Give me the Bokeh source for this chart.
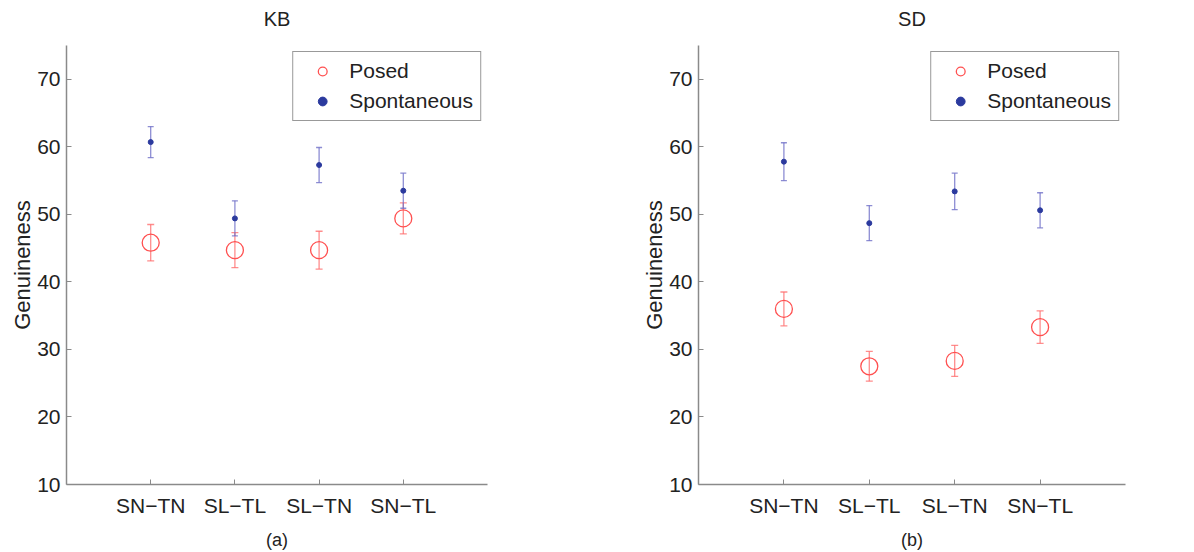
from bokeh.plotting import figure
from bokeh.models import Whisker, TeeHead, ColumnDataSource, FixedTicker, Title
from bokeh.layouts import row
from bokeh.embed import file_html
from bokeh.resources import INLINE

categories = ["SN\u2212TN", "SL\u2212TL", "SL\u2212TN", "SN\u2212TL"]
y_ticks = [10, 20, 30, 40, 50, 60, 70]

kb_posed = [45.8, 44.7, 44.7, 49.4]
kb_posed_err = [2.7, 2.6, 2.8, 2.3]
kb_spont = [60.7, 49.4, 57.3, 53.5]
kb_spont_err = [2.3, 2.6, 2.6, 2.6]

sd_posed = [36.0, 27.5, 28.3, 33.3]
sd_posed_err = [2.5, 2.2, 2.3, 2.4]
sd_spont = [57.8, 48.7, 53.4, 50.6]
sd_spont_err = [2.8, 2.6, 2.7, 2.6]

FONT = "Liberation Sans"
TEXT = "#222222"
AXIS = "#8a8a8a"
RED = "#ff5050"
RED_ERR = "#ff7070"
BLUE = "#2b3a9e"
BLUE_ERR = "#7070c8"


def make_panel(title, caption, posed, posed_err, spont, spont_err, fw, bl, br):
    p = figure(frame_width=fw, frame_height=439, x_range=(0, 5), y_range=(10, 75),
               output_backend="svg", toolbar_location=None, title=title,
               min_border_left=bl, min_border_right=br,
               min_border_top=45, min_border_bottom=66)
    p.outline_line_color = None
    p.xgrid.visible = False
    p.ygrid.visible = False
    p.background_fill_color = "white"
    p.border_fill_color = "white"

    # small spacer between the frame and the title
    p.add_layout(Title(text=" ", text_font_size="8px", standoff=0), "above")

    p.title.align = "center"
    p.title.text_font = FONT
    p.title.text_font_size = "20px"
    p.title.text_font_style = "normal"
    p.title.text_color = TEXT

    x = list(range(1, len(categories) + 1))
    p.xaxis.ticker = FixedTicker(ticks=x)
    p.xaxis.major_label_overrides = {xi: c for xi, c in zip(x, categories)}
    p.yaxis.ticker = FixedTicker(ticks=y_ticks)
    p.yaxis.axis_label = "Genuineness"
    p.xaxis.axis_label = caption

    for ax in (p.xaxis[0], p.yaxis[0]):
        ax.axis_line_color = AXIS
        ax.axis_line_width = 1.5
        ax.major_tick_line_color = AXIS
        ax.major_tick_in = 5
        ax.major_tick_out = 0
        ax.minor_tick_line_color = None
        ax.major_label_text_font = FONT
        ax.major_label_text_font_size = "21px"
        ax.major_label_text_color = TEXT
        ax.axis_label_text_font = FONT
        ax.axis_label_text_font_style = "normal"
        ax.axis_label_text_color = TEXT
    p.yaxis.major_label_standoff = 6
    p.yaxis.axis_label_text_font_size = "22px"
    p.yaxis.axis_label_standoff = -1
    p.xaxis.major_label_standoff = 9
    p.xaxis.axis_label_text_font_size = "18px"
    p.xaxis.axis_label_standoff = 10

    ps = ColumnDataSource(dict(x=x, y=posed,
                               lo=[v - e for v, e in zip(posed, posed_err)],
                               hi=[v + e for v, e in zip(posed, posed_err)]))
    ss = ColumnDataSource(dict(x=x, y=spont,
                               lo=[v - e for v, e in zip(spont, spont_err)],
                               hi=[v + e for v, e in zip(spont, spont_err)]))

    p.add_layout(Whisker(base="x", lower="lo", upper="hi", source=ps,
                         line_color=RED_ERR, line_width=1.3, line_alpha=0.8,
                         upper_head=TeeHead(size=7, line_color=RED_ERR, line_width=1.3, line_alpha=0.8),
                         lower_head=TeeHead(size=7, line_color=RED_ERR, line_width=1.3, line_alpha=0.8)))
    p.add_layout(Whisker(base="x", lower="lo", upper="hi", source=ss,
                         line_color=BLUE_ERR, line_width=1.3, line_alpha=0.8,
                         upper_head=TeeHead(size=6, line_color=BLUE_ERR, line_width=1.3, line_alpha=0.8),
                         lower_head=TeeHead(size=6, line_color=BLUE_ERR, line_width=1.3, line_alpha=0.8)))

    p.scatter("x", "y", source=ps, marker="circle", size=17, fill_alpha=0,
              line_color=RED, line_width=1.3, legend_label="Posed")
    p.scatter("x", "y", source=ss, marker="circle", size=5, fill_color=BLUE,
              line_color=BLUE, legend_label="Spontaneous")

    lg = p.legend[0]
    lg.location = "top_right"
    lg.margin = 6
    lg.padding = 7
    lg.spacing = 6
    lg.glyph_width = 44
    lg.glyph_height = 22
    lg.label_height = 22
    lg.label_standoff = 5
    lg.label_text_font = FONT
    lg.label_text_font_size = "21px"
    lg.label_text_color = TEXT
    lg.border_line_color = "#333333"
    lg.border_line_width = 1.3
    lg.background_fill_alpha = 1.0
    return p


p1 = make_panel("KB", "(a)", kb_posed, kb_posed_err, kb_spont, kb_spont_err, 421, 66, 111)
p2 = make_panel("SD", "(b)", sd_posed, sd_posed_err, sd_spont, sd_spont_err, 427, 100, 61)

layout = row(p1, p2)
open("out.html", "w").write(file_html(layout, INLINE))
